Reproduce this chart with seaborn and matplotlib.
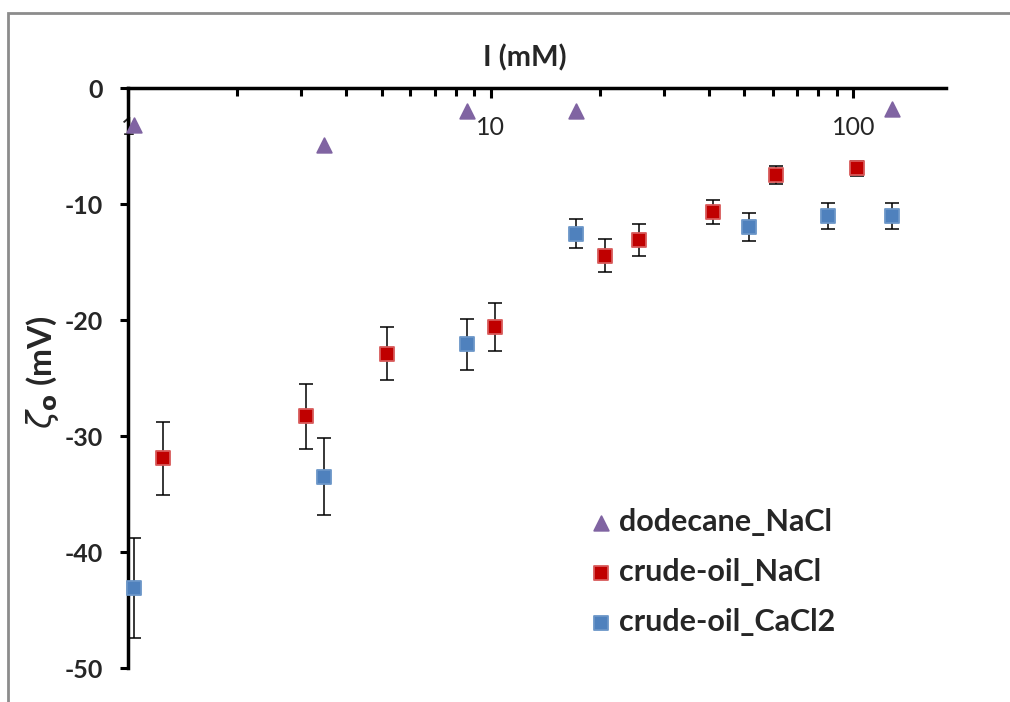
import numpy as np
import pandas as pd
import matplotlib
matplotlib.use("Agg")
import matplotlib.pyplot as plt
from matplotlib.patches import Rectangle
from matplotlib.ticker import LogLocator, FixedFormatter, FixedLocator, NullFormatter
import seaborn as sns

# data
dod_x = [1.04, 3.47, 8.6, 17.2, 128]
dod_y = [-3.2, -4.95, -2.0, -2.0, -1.8]

oil_na_x = [1.25, 3.10, 5.17, 10.3, 20.6, 25.6, 41.1, 61.1, 102]
oil_na_y = [-31.9, -28.3, -22.9, -20.6, -14.45, -13.1, -10.7, -7.5, -6.9]
oil_na_err = [3.15, 2.8, 2.3, 2.05, 1.45, 1.35, 1.05, 0.8, 0.65]

oil_ca_x = [1.04, 3.47, 8.63, 17.2, 51.5, 85.3, 128]
oil_ca_y = [-43.1, -33.5, -22.1, -12.55, -12.0, -11.05, -11.05]
oil_ca_err = [4.3, 3.35, 2.2, 1.25, 1.2, 1.1, 1.1]

series_names = ["dodecane_NaCl", "crude-oil_NaCl", "crude-oil_CaCl2"]
colors = {"dodecane_NaCl": "#8064A2", "crude-oil_NaCl": "#C00000", "crude-oil_CaCl2": "#4F81BD"}
edges = {"dodecane_NaCl": "#8064A2", "crude-oil_NaCl": "#D85A5A", "crude-oil_CaCl2": "#6B96C8"}
markers = {"dodecane_NaCl": "^", "crude-oil_NaCl": "s", "crude-oil_CaCl2": "s"}

df = pd.concat([
    pd.DataFrame({"I": dod_x, "zeta": dod_y, "err": np.nan, "series": series_names[0]}),
    pd.DataFrame({"I": oil_na_x, "zeta": oil_na_y, "err": oil_na_err, "series": series_names[1]}),
    pd.DataFrame({"I": oil_ca_x, "zeta": oil_ca_y, "err": oil_ca_err, "series": series_names[2]}),
], ignore_index=True)

sns.set_theme(style="white")
plt.rcParams["font.family"] = ["Lato", "DejaVu Sans"]
plt.rcParams["axes.unicode_minus"] = False

fig = plt.figure(figsize=(10.1, 7.02), dpi=100)
ax = fig.add_axes([128 / 1010, 1 - 668 / 702, (946 - 128) / 1010, (668 - 88) / 702])

# error bars first so markers sit on top
for name in series_names[1:]:
    sub = df[df.series == name]
    ax.errorbar(sub.I, sub.zeta, yerr=sub.err, fmt="none", ecolor="black",
                elinewidth=1.1, capsize=5, capthick=1.1, zorder=2, clip_on=False)

for name in series_names:
    sub = df[df.series == name]
    sns.scatterplot(data=sub, x="I", y="zeta", marker=markers[name], color=colors[name],
                    edgecolor=edges[name], linewidth=1.3, s=110, ax=ax, label=name,
                    zorder=3, clip_on=False)

ax.set_xscale("log")
ax.set_xlim(1, 180)
ax.set_ylim(-50, 0)

for side in ["right", "bottom"]:
    ax.spines[side].set_visible(False)
for side in ["left", "top"]:
    ax.spines[side].set_linewidth(2.5)
    ax.spines[side].set_color("black")

ax.xaxis.tick_top()
ax.xaxis.set_major_locator(FixedLocator([1, 10, 100]))
ax.xaxis.set_major_formatter(FixedFormatter(["1", "10", "100"]))
ax.xaxis.set_minor_locator(LogLocator(base=10, subs=np.arange(2, 10)))
ax.xaxis.set_minor_formatter(NullFormatter())
ax.tick_params(axis="x", which="both", direction="in", top=True, bottom=False,
               labeltop=True, labelbottom=False, pad=-37, labelsize=18,
               color="black", width=2.2)
ax.tick_params(axis="x", which="major", length=7)
ax.tick_params(axis="x", which="minor", length=6)

ax.set_yticks([0, -10, -20, -30, -40, -50])
ax.tick_params(axis="y", which="major", direction="out", left=True, length=6,
               width=2.2, color="black", labelsize=18, pad=12)
for t in ax.get_yticklabels():
    t.set_fontweight("bold")

ax.set_xlabel("I (mM)", fontsize=21, fontweight="bold", va="center")
ax.xaxis.set_label_coords(0.485, 1.052)
ax.set_ylabel(r"$\zeta_{\mathbf{o}}$ (mV)", fontsize=24, fontweight="bold", va="center")
ax.yaxis.set_label_coords(-0.105, 0.51)

ax.legend(loc="upper left", bbox_to_anchor=(590 / 1010, 1 - 508 / 702),
          bbox_transform=fig.transFigure, frameon=False,
          prop={"weight": "bold", "size": 22}, markerscale=1.0,
          handlelength=0.75, handletextpad=0.2, labelspacing=0.72,
          borderpad=0, borderaxespad=0)

# chart-area border like the spreadsheet frame
fig.add_artist(Rectangle((8 / 1010, -0.1), 1.2, 1.1 - 13 / 702, transform=fig.transFigure,
                         fill=False, edgecolor="#8c8c8c", linewidth=2))

fig.savefig("out.png", dpi=100)
